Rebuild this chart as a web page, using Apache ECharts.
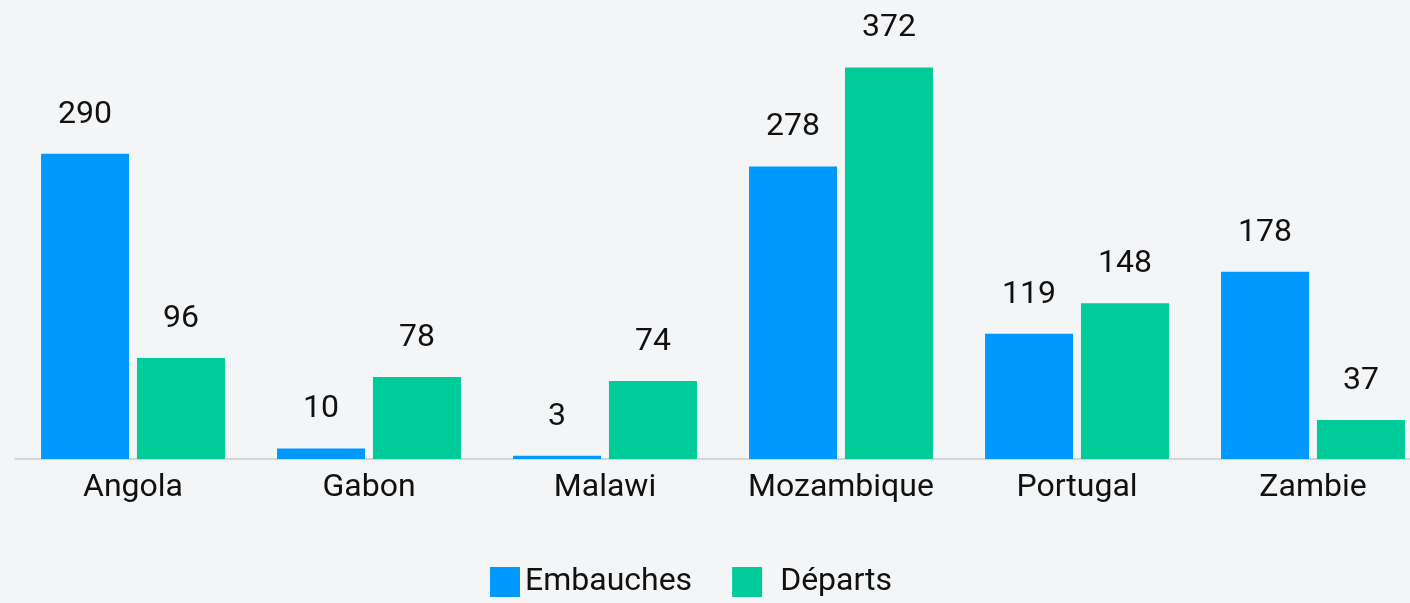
<!DOCTYPE html>
<html>
<head>
<meta charset="utf-8">
<script src="https://cdn.jsdelivr.net/npm/echarts@6/dist/echarts.min.js"></script>
<style>
  html, body { margin: 0; padding: 0; background: #f4f5f7; }
  #chart { width: 1410px; height: 603px; }
</style>
</head>
<body>
<div id="chart"></div>
<script>
const pays = ['Angola', 'Gabon', 'Malawi', 'Mozambique', 'Portugal', 'Zambie']
const embauches = [290, 10, 3, 278, 119, 178]
const departs = [96, 78, 74, 372, 148, 37]

const myChart = echarts.init(document.getElementById('chart'))

const labelOption = {
  show: true,
  position: 'top',
  distance: 23,
  fontFamily: 'Roboto',
  fontSize: 32,
  color: '#111'
}

myChart.setOption({
  backgroundColor: '#f4f5f7',
  textStyle: { fontFamily: 'Roboto' },
  grid: { left: 15, width: 1416, top: 38, height: 421, outerBoundsMode: 'none', containLabel: false },
  legend: {
    top: 566,
    left: 490,
    padding: 0,
    itemWidth: 30,
    itemHeight: 30,
    itemGap: 40,
    icon: 'rect',
    textStyle: { fontSize: 32, color: '#111', fontFamily: 'Roboto' },
    data: [
      { name: 'Embauches' },
      // le texte "Départs" est décalé plus loin de son carré
      { name: 'Départs', textStyle: { padding: [0, 0, 0, 13] } }
    ]
  },
  xAxis: {
    type: 'category',
    data: pays,
    axisTick: { show: false },
    axisLine: { lineStyle: { color: '#c8cacc', width: 1.5 } },
    axisLabel: { fontSize: 32, color: '#111', margin: 13, interval: 0 }
  },
  yAxis: {
    type: 'value',
    min: 0,
    max: 400,
    show: false,
    splitLine: { show: false }
  },
  series: [
    {
      name: 'Embauches',
      type: 'bar',
      barWidth: 88,
      barGap: '9%',
      itemStyle: { color: '#0099ff' },
      label: labelOption,
      data: embauches
    },
    {
      name: 'Départs',
      type: 'bar',
      barWidth: 88,
      barGap: '9%',
      itemStyle: { color: '#00cc99' },
      label: labelOption,
      data: departs
    }
  ]
})
</script>
</body>
</html>
